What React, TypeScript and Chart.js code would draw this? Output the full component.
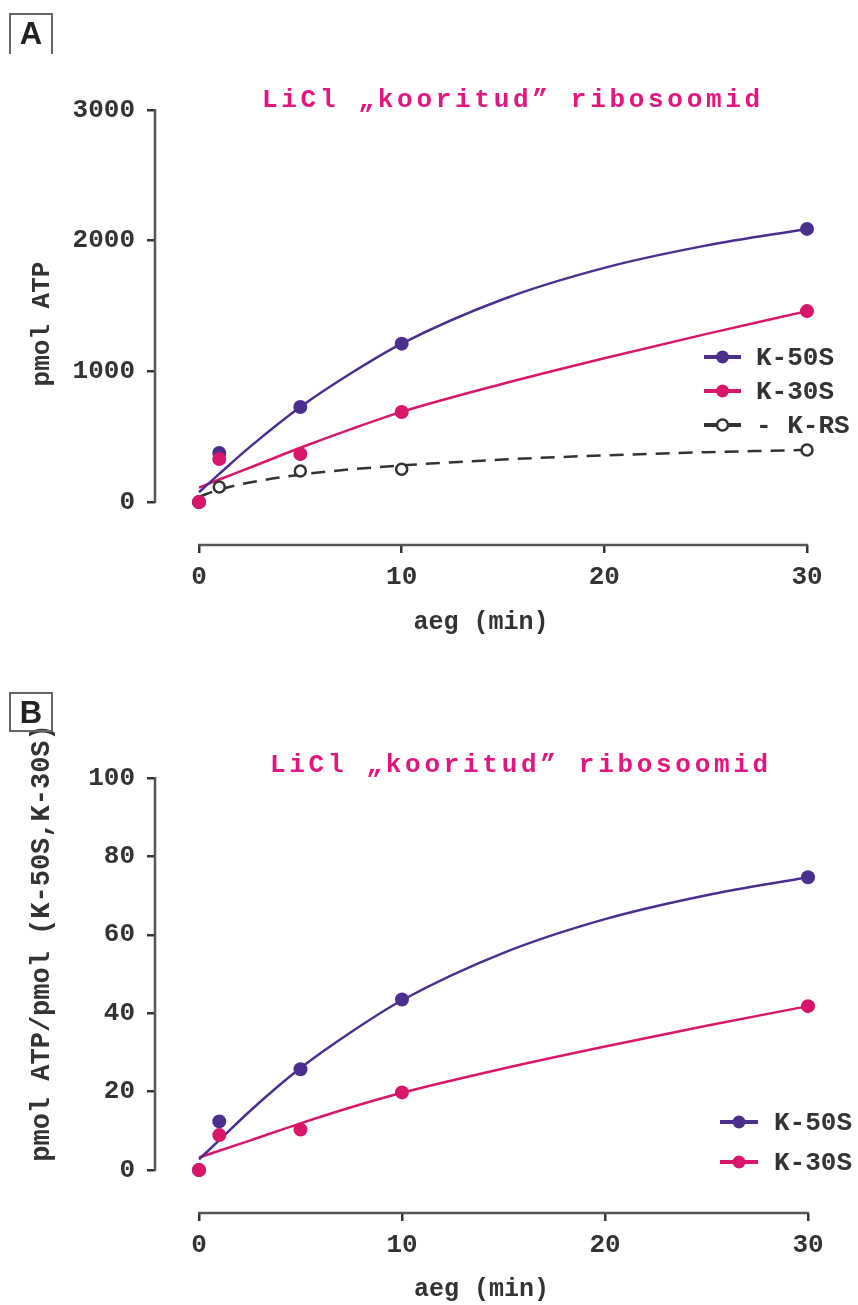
import React, { useEffect, useRef } from "react";
import { Chart, registerables } from "chart.js";

Chart.register(...registerables);

// ---------- data ----------
const TIME = [0, 1, 5, 10, 30];
const FIT_TIME = [0, 1, 2.5, 5, 7.5, 10, 15, 20, 25, 30];
const X_TICKS = [0, 10, 20, 30];

const A_K50 = [0, 375, 727, 1212, 2090];
const A_K30 = [0, 329, 367, 689, 1461];
const A_KRS = [0, 115, 237, 250, 398];
const A_K50_FIT = [75, 215, 420, 727, 985, 1212, 1552, 1792, 1962, 2090];
const A_K30_FIT = [110, 172, 262, 415, 558, 690, 905, 1100, 1285, 1461];
const A_KRS_FIT = [40, 95, 149, 209, 250, 280, 325, 357, 381, 399];
const A_Y_TICKS = [0, 1000, 2000, 3000];

const B_K50 = [0, 12.4, 25.7, 43.5, 74.7];
const B_K30 = [0, 8.9, 10.3, 19.8, 41.8];
const B_K50_FIT = [2.7, 7.6, 15.0, 26.0, 35.2, 43.3, 55.4, 64.0, 70.1, 74.7];
const B_K30_FIT = [3.2, 4.9, 7.5, 11.9, 16.0, 19.7, 25.9, 31.5, 36.8, 41.8];
const B_Y_TICKS = [0, 20, 40, 60, 80, 100];

const TITLE = "LiCl \u201ekooritud\u201d ribosoomid";
const X_TITLE = "aeg (min)";
const Y_TITLE_A = "pmol ATP";
const Y_TITLE_B = "pmol ATP/pmol (K-50S,K-30S)";
const LABEL_K50 = "K-50S";
const LABEL_K30 = "K-30S";
const LABEL_KRS = "- K-RS";

// ---------- styles ----------
const PURPLE = "#4b2f8f";
const PINK = "#d8176b";
const DARK = "#333333";
const AXIS = "#555555";
const TITLE_PINK = "#e2167e";
const MONO = "'Liberation Mono', 'Courier New', monospace";

const pts = (xs: number[], ys: number[]) => xs.map((x, i) => ({ x, y: ys[i] }));

type Series = { label: string; color: string; hollow?: boolean; dashed?: boolean; pts: number[]; fit: number[] };

type PanelOpts = {
  series: Series[];
  yMin: number;
  yMax: number;
  xMin: number;
  yTicks: number[];
  padTop: number;
  padRight: number;
  yWidth: number;
  xHeight: number;
  xTitlePad: number;
  yTitle: { text: string; x: number; y: number; size: number };
  legend: { x: number; y: number; gap: number; lineLen: number; textX: number };
};

function makeConfig(o: PanelOpts): any {
  const datasets: any[] = [];
  o.series.forEach((s) => {
    datasets.push({
      label: s.label + " fit",
      data: pts(FIT_TIME, s.fit),
      showLine: true,
      borderColor: s.hollow ? DARK : s.color,
      borderWidth: 2.5,
      borderDash: s.dashed ? [14, 9] : [],
      pointRadius: 0,
      cubicInterpolationMode: "monotone",
      fill: false,
      clip: false,
      order: 10,
    });
  });
  o.series.forEach((s) => {
    datasets.push({
      label: s.label,
      data: pts(TIME, s.pts),
      showLine: false,
      pointRadius: s.hollow ? 5.5 : 7,
      pointBackgroundColor: s.hollow ? "#ffffff" : s.color,
      pointBorderColor: s.hollow ? DARK : s.color,
      pointBorderWidth: s.hollow ? 2.5 : 0,
      clip: false,
      order: s.hollow ? 3 : s.label === LABEL_K30 ? 1 : 2,
    });
  });

  const tickFont = { family: MONO, size: 26, weight: "bold" as const };

  const axisPlugin = {
    id: "axisLines",
    afterDraw(chart: any) {
      const { ctx, chartArea, scales } = chart;
      ctx.save();
      ctx.strokeStyle = AXIS;
      ctx.lineWidth = 2.5;
      ctx.lineCap = "butt";
      const y0 = scales.y.getPixelForValue(o.yTicks[0]);
      const y1 = scales.y.getPixelForValue(o.yTicks[o.yTicks.length - 1]);
      ctx.beginPath();
      ctx.moveTo(chartArea.left, y0 + 1);
      ctx.lineTo(chartArea.left, y1 - 1);
      ctx.stroke();
      const x0 = scales.x.getPixelForValue(X_TICKS[0]);
      const x1 = scales.x.getPixelForValue(X_TICKS[X_TICKS.length - 1]);
      ctx.beginPath();
      ctx.moveTo(x0 - 1, chartArea.bottom);
      ctx.lineTo(x1 + 1, chartArea.bottom);
      ctx.stroke();
      ctx.restore();
    },
  };

  const yTitlePlugin = {
    id: "yTitle",
    afterDraw(chart: any) {
      const ctx = chart.ctx;
      ctx.save();
      ctx.translate(o.yTitle.x, o.yTitle.y);
      ctx.rotate(-Math.PI / 2);
      ctx.font = `bold ${o.yTitle.size}px ${MONO}`;
      ctx.fillStyle = DARK;
      ctx.textAlign = "center";
      ctx.textBaseline = "middle";
      ctx.fillText(o.yTitle.text, 0, 0);
      ctx.restore();
    },
  };

  const legendPlugin = {
    id: "sideLegend",
    afterDraw(chart: any) {
      const ctx = chart.ctx;
      const L = o.legend;
      ctx.save();
      o.series.forEach((s, i) => {
        const y = L.y + i * L.gap;
        const col = s.hollow ? DARK : s.color;
        ctx.strokeStyle = col;
        ctx.lineWidth = 4;
        ctx.setLineDash([]);
        ctx.beginPath();
        ctx.moveTo(L.x, y);
        ctx.lineTo(L.x + L.lineLen, y);
        ctx.stroke();
        const cx = L.x + L.lineLen / 2;
        ctx.beginPath();
        if (s.hollow) {
          ctx.arc(cx, y, 5.5, 0, Math.PI * 2);
          ctx.fillStyle = "#ffffff";
          ctx.fill();
          ctx.lineWidth = 2.5;
          ctx.stroke();
        } else {
          ctx.arc(cx, y, 6.5, 0, Math.PI * 2);
          ctx.fillStyle = col;
          ctx.fill();
        }
        ctx.font = `bold 26px ${MONO}`;
        ctx.fillStyle = DARK;
        ctx.textAlign = "left";
        ctx.textBaseline = "middle";
        ctx.fillText(s.label, L.textX, y + 1);
      });
      ctx.restore();
    },
  };

  return {
    type: "scatter",
    data: { datasets },
    plugins: [axisPlugin, yTitlePlugin, legendPlugin],
    options: {
      animation: false,
      responsive: false,
      events: [],
      layout: { padding: { top: o.padTop, right: o.padRight, left: 0, bottom: 0 } },
      plugins: { legend: { display: false }, tooltip: { enabled: false }, title: { display: false } },
      scales: {
        x: {
          type: "linear",
          min: o.xMin,
          max: 30,
          afterBuildTicks: (s: any) => {
            s.ticks = X_TICKS.map((v) => ({ value: v }));
          },
          afterFit: (s: any) => {
            s.height = o.xHeight;
          },
          grid: { drawOnChartArea: false, drawTicks: true, tickLength: 8, color: DARK, lineWidth: 2.5 },
          border: { display: false },
          ticks: { font: tickFont, color: DARK, padding: 9, maxRotation: 0, autoSkip: false, callback: (v: any) => String(v) },
          title: { display: true, text: X_TITLE, font: { family: MONO, size: 25, weight: "bold" }, color: DARK, padding: { top: 0, bottom: o.xTitlePad } },
        },
        y: {
          type: "linear",
          min: o.yMin,
          max: o.yMax,
          afterBuildTicks: (s: any) => {
            s.ticks = o.yTicks.map((v) => ({ value: v }));
          },
          afterFit: (s: any) => {
            s.width = o.yWidth;
          },
          grid: { drawOnChartArea: false, drawTicks: true, tickLength: 8, color: DARK, lineWidth: 2.5 },
          border: { display: false },
          ticks: { font: tickFont, color: DARK, padding: 12, autoSkip: false, callback: (v: any) => String(v) },
        },
      },
    },
  };
}

function Panel(props: { opts: PanelOpts; width: number; height: number; top: number }) {
  const ref = useRef<HTMLCanvasElement | null>(null);
  useEffect(() => {
    if (!ref.current) return;
    const chart = new Chart(ref.current, makeConfig(props.opts));
    return () => chart.destroy();
  }, []);
  return (
    <canvas
      ref={ref}
      width={props.width}
      height={props.height}
      style={{ position: "absolute", left: 0, top: props.top, width: props.width, height: props.height }}
    />
  );
}

const titleStyle = (top: number, left: number): React.CSSProperties => ({
  position: "absolute",
  left,
  top,
  fontFamily: MONO,
  fontWeight: "bold",
  fontSize: 26,
  lineHeight: "26px",
  letterSpacing: "3.7px",
  color: TITLE_PINK,
  whiteSpace: "nowrap",
});

const boxStyle = (top: number, noBottom: boolean): React.CSSProperties => ({
  position: "absolute",
  left: 9,
  top,
  width: 40,
  height: noBottom ? 39 : 36,
  border: "2px solid #666",
  borderBottom: noBottom ? "none" : "2px solid #666",
  fontFamily: "'Liberation Sans', Arial, sans-serif",
  fontWeight: "bold",
  fontSize: 31,
  lineHeight: "38px",
  textAlign: "center",
  color: "#222",
});

export default function App() {
  const W = 858;
  const A_TOP = 0;
  const A_H = 660;
  const B_TOP = 660;
  const B_H = 645;

  const optsA: PanelOpts = {
    series: [
      { label: LABEL_K50, color: PURPLE, pts: A_K50, fit: A_K50_FIT },
      { label: LABEL_K30, color: PINK, pts: A_K30, fit: A_K30_FIT },
      { label: LABEL_KRS, color: DARK, hollow: true, dashed: true, pts: A_KRS, fit: A_KRS_FIT },
    ],
    yMin: -329,
    yMax: 3000,
    xMin: -2.171,
    yTicks: A_Y_TICKS,
    padTop: 110,
    padRight: 51,
    yWidth: 155,
    xHeight: A_H - 545,
    xTitlePad: 22,
    yTitle: { text: Y_TITLE_A, x: 42, y: 324, size: 26 },
    legend: { x: 704, y: 357, gap: 34, lineLen: 37, textX: 756 },
  };

  const optsB: PanelOpts = {
    series: [
      { label: LABEL_K50, color: PURPLE, pts: B_K50, fit: B_K50_FIT },
      { label: LABEL_K30, color: PINK, pts: B_K30, fit: B_K30_FIT },
    ],
    yMin: -10.97,
    yMax: 100,
    xMin: -2.167,
    yTicks: B_Y_TICKS,
    padTop: 778 - B_TOP,
    padRight: 50,
    yWidth: 155,
    xHeight: B_H - (1213 - B_TOP),
    xTitlePad: 0,
    yTitle: { text: Y_TITLE_B, x: 42, y: 943 - B_TOP, size: 27 },
    legend: { x: 720, y: 1122 - B_TOP, gap: 40, lineLen: 38, textX: 774 },
  };

  return (
    <div style={{ position: "absolute", left: 0, top: 0, width: W, height: 1305, background: "#ffffff", overflow: "hidden" }}>
      <Panel opts={optsA} width={W} height={A_H} top={A_TOP} />
      <Panel opts={optsB} width={W} height={B_H} top={B_TOP} />
      <div style={boxStyle(13, true)}>A</div>
      <div style={boxStyle(692, false)}>B</div>
      <div style={titleStyle(87, 262)}>{TITLE}</div>
      <div style={titleStyle(752, 270)}>{TITLE}</div>
    </div>
  );
}
